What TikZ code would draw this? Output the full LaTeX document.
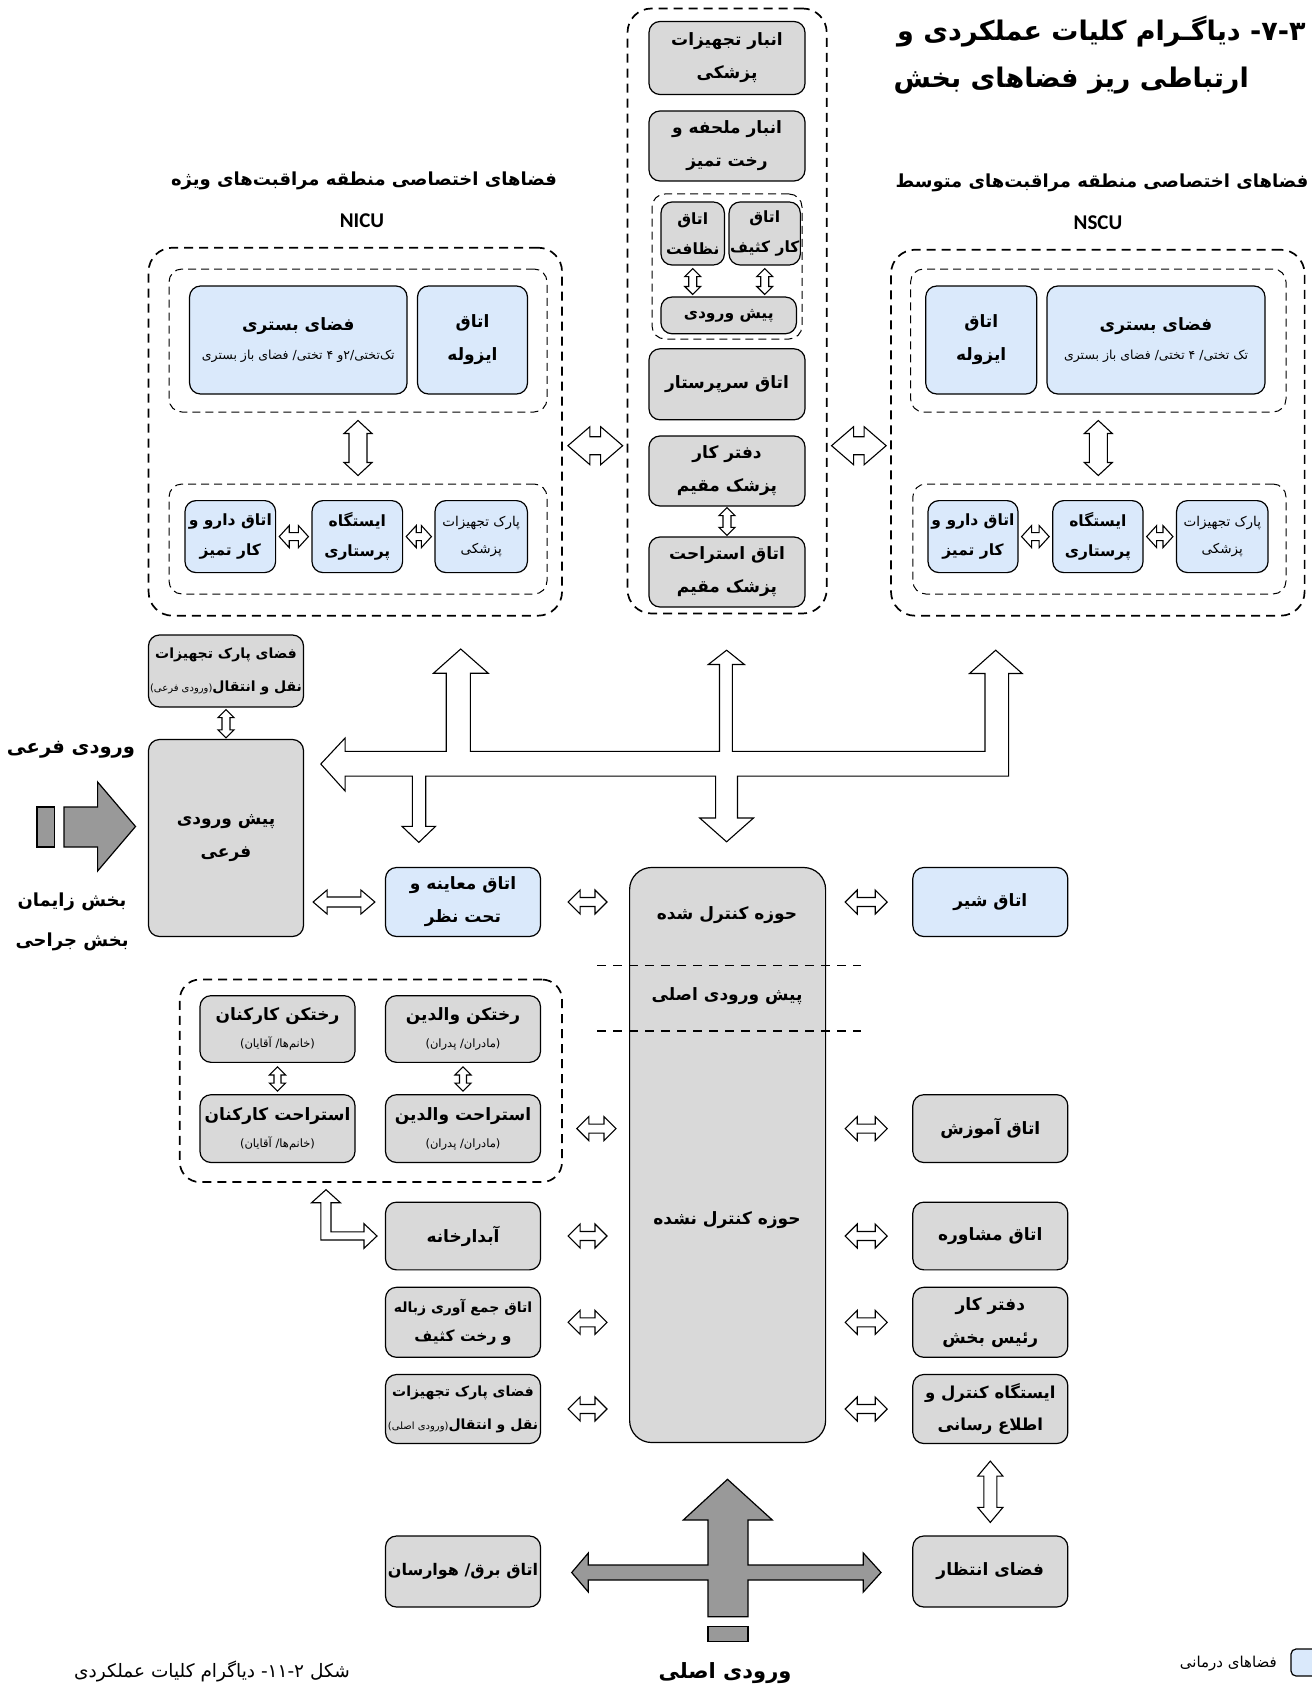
\documentclass[tikz,border=0pt]{standalone}
\usepackage{fontspec}
\usetikzlibrary{calc}
\TeXXeTstate=1
\newfontfamily\fa[Script=Arabic]{DejaVu Sans}
\newfontfamily\latf{Carlito}
\definecolor{bxblue}{RGB}{218,233,251}
\definecolor{bxgray}{RGB}{217,217,217}
\definecolor{argray}{RGB}{153,153,153}
\newcommand\rl[1]{\beginR#1\endR}
\newcommand\kz{\kern0pt\relax}
\newcommand\rsl{\kern0pt\relax/\kern0pt\relax}
\newcommand\rpo{(\kern0pt\relax}
\newcommand\rpc{\kern0pt\relax)}
\newcommand\mainf{\fa\bfseries\fontsize{17}{33}\selectfont}
\newcommand\medf{\fa\bfseries\fontsize{15.5}{30}\selectfont}
\newcommand\smf{\fa\bfseries\fontsize{14}{29}\selectfont}
\newcommand\pkf{\fa\mdseries\fontsize{13.5}{27}\selectfont}
\newcommand\subf{\fa\mdseries\fontsize{12.5}{15}\selectfont}
\newcommand\subg{\fa\mdseries\fontsize{11.5}{14}\selectfont}
\newcommand\tinyf{\fa\mdseries\fontsize{10}{12}\selectfont}
\newcommand\harr[6][barr]{\draw[#1] let \p1=#2, \p2=#3 in (\x1,\y1) -- (\x1+#6,\y1+#5) -- (\x1+#6,\y1+#4) -- (\x2-#6,\y1+#4) -- (\x2-#6,\y1+#5) -- (\x2,\y1) -- (\x2-#6,\y1-#5) -- (\x2-#6,\y1-#4) -- (\x1+#6,\y1-#4) -- (\x1+#6,\y1-#5) -- cycle;}
\newcommand\varr[6][barr]{\draw[#1] let \p1=#2, \p2=#3 in (\x1,\y1) -- (\x1+#5,\y1-#6) -- (\x1+#4,\y1-#6) -- (\x1+#4,\y2+#6) -- (\x1+#5,\y2+#6) -- (\x1,\y2) -- (\x1-#5,\y2+#6) -- (\x1-#4,\y2+#6) -- (\x1-#4,\y1-#6) -- (\x1-#5,\y1-#6) -- cycle;}
\begin{document}
\begin{tikzpicture}[x=1pt,y=-1pt,
 bx/.style={draw=black,line width=1.2pt,rounded corners=11pt,align=center,inner sep=1pt,font=\mainf},
 gb/.style={bx,fill=bxgray},
 bb/.style={bx,fill=bxblue},
 odash/.style={draw=black,line width=1.7pt,dash pattern=on 9pt off 6pt,rounded corners=24pt,inner sep=0pt},
 idash/.style={draw=black,line width=1pt,dash pattern=on 8pt off 5pt,rounded corners=13pt,inner sep=0pt},
 barr/.style={draw=black,line width=1.1pt,fill=white,line join=miter},
 garr/.style={draw=black,line width=1.2pt,fill=argray,line join=miter},
 hd/.style={font=\fa\bfseries\fontsize{18}{22}\selectfont,inner sep=0pt},
 hdl/.style={font=\latf\bfseries\fontsize{21}{24}\selectfont,inner sep=0pt},
 ttl/.style={font=\fa\bfseries\fontsize{27}{30}\selectfont,inner sep=0pt},
 lbl/.style={font=\fa\bfseries\fontsize{18}{22}\selectfont,inner sep=0pt},
 cdash/.style={line width=1.5pt,dash pattern=on 9pt off 7pt}
]
\useasboundingbox (0,0) rectangle (1311,1688);

% ---- title
\node[ttl,anchor=west] (t1) at (897,32) {\rl{۳\kz-\kz۷\kz- دیاگـرام کلیات عملکردی و}};
\node[ttl,anchor=east] (t2) at (1249,81) {\rl{ارتباطی ریز فضاهای بخش}};

% ---- NICU
\node[hd] (nicuh) at (364,181) {\rl{فضاهای اختصاصی منطقه مراقبت‌های ویژه}};
\node[hdl] (nicul) at (362,221) {NICU};
\node[odash,minimum width=413.5,minimum height=368] (nicuo) at (355.3,431.7) {};
\node[idash,minimum width=378,minimum height=143] (nicut) at (358,340.5) {};
\node[idash,minimum width=378,minimum height=110] (nicub) at (358,539) {};
\node[bb,minimum width=217.5,minimum height=108] (nicubed) at (298.3,340) {\rl{فضای بستری}\\[-4pt]{\subf\rl{تک‌تختی\rsl۲\kz و ۴ تختی\rsl{} فضای باز بستری}}};
\node[bb,minimum width=110,minimum height=108] (nicuiso) at (472.5,340) {\rl{اتاق}\\\rl{ایزوله}};
\node[bb,font=\medf,minimum width=90.6,minimum height=72] (nicudaru) at (230.3,536.6) {\rl{اتاق دارو و}\\\rl{کار تمیز}};
\node[bb,font=\medf,minimum width=90.6,minimum height=72] (nicust) at (357.3,536.6) {\rl{ایستگاه}\\\rl{پرستاری}};
\node[bb,font=\pkf,minimum width=92.4,minimum height=72] (nicupark) at (481.2,536.6) {\rl{پارک تجهیزات}\\\rl{پزشکی}};
\varr{($(nicut.south)+(0,8)$)}{($(nicub.north)+(0,-8)$)}{9pt}{14pt}{13pt}
\harr{($(nicudaru.east)+(3,0)$)}{($(nicust.west)+(-3,0)$)}{4pt}{11pt}{10pt}
\harr{($(nicust.east)+(3,0)$)}{($(nicupark.west)+(-3,0)$)}{4pt}{11pt}{10pt}

% ---- central column
\node[odash,minimum width=199.2,minimum height=605] (co) at (727.1,311) {};
\node[gb,minimum width=156,minimum height=73] (ca) at (727,58) {\rl{انبار تجهیزات}\\\rl{پزشکی}};
\node[gb,minimum width=156,minimum height=70] (cm) at (727,146) {\rl{انبار ملحفه و}\\\rl{رخت تمیز}};
\node[idash,minimum width=150,minimum height=145] (ci) at (727,266.5) {};
\node[gb,font=\medf,minimum width=63.4,minimum height=63] (cn) at (692.7,233.5) {\rl{اتاق}\\\rl{نظافت}};
\node[gb,font=\medf,minimum width=63.4,minimum height=63] (ck) at (764.7,233.5) {\rl{اتاق}\\\rl{کار کثیف}};
\node[gb,font=\medf,minimum width=135.5,minimum height=36.7] (cp) at (728.7,315.4) {\rl{پیش ورودی}};
\varr{($(cn.south)+(0,3)$)}{($(cn.south |- cp.north)+(0,-2)$)}{4pt}{8pt}{8pt}
\varr{($(ck.south)+(0,3)$)}{($(ck.south |- cp.north)+(0,-2)$)}{4pt}{8pt}{8pt}
\node[gb,minimum width=156,minimum height=71] (cs) at (727,384.3) {\rl{اتاق سرپرستار}};
\node[gb,minimum width=156,minimum height=70] (cd) at (727,471) {\rl{دفتر کار}\\\rl{پزشک مقیم}};
\node[gb,minimum width=156,minimum height=70] (ce) at (727,572) {\rl{اتاق استراحت}\\\rl{پزشک مقیم}};
\varr{($(cd.south)+(0,1)$)}{($(ce.north)+(0,-1)$)}{4pt}{8pt}{8pt}

% ---- NSCU
\node[hd] (nscuh) at (1102,183) {\rl{فضاهای اختصاصی منطقه مراقبت‌های متوسط}};
\node[hdl] (nscul) at (1098,223) {NSCU};
\node[odash,minimum width=413.6,minimum height=366] (nscuo) at (1097.8,432.7) {};
\node[idash,minimum width=375.4,minimum height=143] (nscut) at (1098.3,340.5) {};
\node[idash,minimum width=373.2,minimum height=110] (nscub) at (1099.4,539) {};
\node[bb,minimum width=111,minimum height=108] (nscuiso) at (981.2,340) {\rl{اتاق}\\\rl{ایزوله}};
\node[bb,minimum width=218,minimum height=108] (nscubed) at (1156,340) {\rl{فضای بستری}\\[-4pt]{\subf\rl{تک تختی\rsl{} ۴ تختی\rsl{} فضای باز بستری}}};
\node[bb,font=\medf,minimum width=90,minimum height=72] (nscudaru) at (973,536.6) {\rl{اتاق دارو و}\\\rl{کار تمیز}};
\node[bb,font=\medf,minimum width=90.3,minimum height=72] (nscust) at (1097.9,536.6) {\rl{ایستگاه}\\\rl{پرستاری}};
\node[bb,font=\pkf,minimum width=91.5,minimum height=72] (nscupark) at (1222.3,536.6) {\rl{پارک تجهیزات}\\\rl{پزشکی}};
\varr{($(nscut.south)+(0,8)$)}{($(nscub.north)+(0,-8)$)}{9pt}{14pt}{13pt}
\harr{($(nscudaru.east)+(3,0)$)}{($(nscust.west)+(-3,0)$)}{4pt}{11pt}{10pt}
\harr{($(nscust.east)+(3,0)$)}{($(nscupark.west)+(-3,0)$)}{4pt}{11pt}{10pt}

% ---- links of the upper zones
\harr{($(nicuo.east)+(5,14)$)}{($(co.west |- nicuo.east)+(-4,14)$)}{9pt}{19pt}{22pt}
\harr{($(co.east |- nscuo.west)+(4,13)$)}{($(nscuo.west)+(-4,13)$)}{9pt}{19pt}{22pt}

% ---- left middle
\node[gb,minimum width=155,minimum height=72] (lpk) at (226,671) {{\smf\rl{فضای پارک تجهیزات}}\\{\smf\rl{نقل و انتقال{\tinyf\rpo ورودی فرعی\rpc}}}};
\node[gb,minimum width=155,minimum height=197] (lpf) at (226,838) {\rl{پیش ورودی}\\\rl{فرعی}};
\varr{($(lpk.south)+(0,2)$)}{($(lpf.north)+(0,-1)$)}{4pt}{8pt}{8pt}
\node[lbl,font=\fa\bfseries\fontsize{19.5}{23}\selectfont] (vf) at (71,750) {\rl{ورودی فرعی}};
\node[lbl] (bz) at (72,902) {\rl{بخش زایمان}};
\node[lbl] (bj) at (72,942) {\rl{بخش جراحی}};
\draw[garr] (37,807) rectangle (54.7,847);
\draw[garr] (64,807) -- (97.6,807) -- (97.6,782) -- (135.5,826.5) -- (97.6,871) -- (97.6,847) -- (64,847) -- cycle;
\node[bb,minimum width=155,minimum height=69] (maay) at (463,902) {\rl{اتاق معاینه و}\\\rl{تحت نظر}};
\harr{($(lpf.east |- maay.west)+(9,0)$)}{($(maay.west)+(-10,0)$)}{5pt}{12pt}{14pt}

% ---- big white distribution arrow
\draw[barr] (320.8,764) -- (345.1,738) -- (345.1,751.3) -- (446.2,751.3) -- (446.2,673.2) -- (433.5,673.2) -- (460.7,649) -- (488.2,673.2) -- (470.4,673.2) -- (470.4,751.3) -- (719.5,751.3) -- (719.5,664.5) -- (708.3,664.5) -- (726.6,650.2) -- (744.4,664.5) -- (732.4,664.5) -- (732.4,751.3) -- (985,751.3) -- (985,673.5) -- (969.5,673.5) -- (995.7,650.2) -- (1022.2,673.5) -- (1008.6,673.5) -- (1008.6,776.1) -- (737.5,776.1) -- (737.5,818) -- (753.5,818) -- (726.6,841.8) -- (699.7,818) -- (715.6,818) -- (715.6,776.1) -- (425.7,776.1) -- (425.7,826.3) -- (435.6,826.3) -- (418.8,842.4) -- (402,826.3) -- (412.3,826.3) -- (412.3,776.1) -- (345.1,776.1) -- (345.1,791) -- cycle;

% ---- central controlled / uncontrolled zone
\node[gb,rounded corners=22pt,minimum width=196,minimum height=575] (cb) at (727.6,1155) {};
\node[font=\mainf,inner sep=0pt] (cbt1) at (727,915) {\rl{حوزه کنترل شده}};
\node[font=\mainf,inner sep=0pt] (cbt2) at (727,996) {\rl{پیش ورودی اصلی}};
\node[font=\mainf,inner sep=0pt] (cbt3) at (727,1220) {\rl{حوزه کنترل نشده}};
\draw[cdash] (597,965.5) -- (861,965.5);
\draw[cdash] (597,1031) -- (861,1031);
\harr{($(maay.east)+(27,0)$)}{($(cb.west |- maay.east)+(-22,0)$)}{4.5pt}{12pt}{12pt}

% ---- staff / parents group
\node[odash,rounded corners=20pt,minimum width=382.2,minimum height=202.5] (lld) at (370.9,1080.8) {};
\node[gb,minimum width=155,minimum height=66.7] (rk) at (277.5,1029) {\rl{رختکن کارکنان}\\[-6pt]{\subg\rl{\rpo خانم‌ها\rsl{} آقایان\rpc}}};
\node[gb,minimum width=155,minimum height=66.7] (rv) at (463,1029) {\rl{رختکن والدین}\\[-6pt]{\subg\rl{\rpo مادران\rsl{} پدران\rpc}}};
\node[gb,minimum width=155,minimum height=67.8] (ek) at (277.5,1128.6) {\rl{استراحت کارکنان}\\[-6pt]{\subg\rl{\rpo خانم‌ها\rsl{} آقایان\rpc}}};
\node[gb,minimum width=155,minimum height=67.8] (ev) at (463,1128.6) {\rl{استراحت والدین}\\[-6pt]{\subg\rl{\rpo مادران\rsl{} پدران\rpc}}};
\varr{($(rk.south)+(0,4)$)}{($(ek.north)+(0,-3)$)}{3.5pt}{8pt}{8pt}
\varr{($(rv.south)+(0,4)$)}{($(ev.north)+(0,-3)$)}{3.5pt}{8pt}{8pt}
\harr{($(lld.east |- ev.east)+(14,0)$)}{($(cb.west |- ev.east)+(-13,0)$)}{4.5pt}{12pt}{12pt}

% ---- left service rooms
\node[gb,minimum width=155,minimum height=67.7] (ab) at (463,1236) {\rl{آبدارخانه}};
\draw[barr] (326,1189.7) -- (340.4,1202.7) -- (331,1202.7) -- (331,1231.8) -- (364,1231.8) -- (364,1223.7) -- (377,1236) -- (364,1248.3) -- (364,1240) -- (320.8,1240) -- (320.8,1202.7) -- (311.6,1202.7) -- cycle;
\node[gb,font=\smf,minimum width=155,minimum height=70] (zb) at (463,1322.3) {\rl{اتاق جمع آوری زباله}\\{\medf\rl{و رخت کثیف}}};
\node[gb,minimum width=155,minimum height=69] (pm) at (463,1409) {{\smf\rl{فضای پارک تجهیزات}}\\{\smf\rl{نقل و انتقال{\tinyf\rpo ورودی اصلی\rpc}}}};
\harr{($(ab.east)+(27,0)$)}{($(cb.west |- ab.east)+(-22,0)$)}{4.5pt}{12pt}{12pt}
\harr{($(zb.east)+(27,0)$)}{($(cb.west |- zb.east)+(-22,0)$)}{4.5pt}{12pt}{12pt}
\harr{($(pm.east)+(27,0)$)}{($(cb.west |- pm.east)+(-22,0)$)}{4.5pt}{12pt}{12pt}

% ---- right rooms
\node[bb,minimum width=155,minimum height=69] (sh) at (990.3,902) {\rl{اتاق شیر}};
\node[gb,minimum width=155,minimum height=67.8] (am) at (990.3,1128.6) {\rl{اتاق آموزش}};
\node[gb,minimum width=155,minimum height=67.7] (ms) at (990.3,1236) {\rl{اتاق مشاوره}};
\node[gb,minimum width=155,minimum height=70] (rs) at (990.3,1322.3) {\rl{دفتر کار}\\\rl{رئیس بخش}};
\node[gb,font=\fa\bfseries\fontsize{16.5}{32}\selectfont,minimum width=155,minimum height=69] (ks) at (990.3,1409) {\rl{ایستگاه کنترل و}\\\rl{اطلاع رسانی}};
\harr{($(cb.east |- sh.west)+(19,0)$)}{($(sh.west)+(-25,0)$)}{4.5pt}{12pt}{12pt}
\harr{($(cb.east |- am.west)+(19,0)$)}{($(am.west)+(-25,0)$)}{4.5pt}{12pt}{12pt}
\harr{($(cb.east |- ms.west)+(19,0)$)}{($(ms.west)+(-25,0)$)}{4.5pt}{12pt}{12pt}
\harr{($(cb.east |- rs.west)+(19,0)$)}{($(rs.west)+(-25,0)$)}{4.5pt}{12pt}{12pt}
\harr{($(cb.east |- ks.west)+(19,0)$)}{($(ks.west)+(-25,0)$)}{4.5pt}{12pt}{12pt}
\node[gb,minimum width=155,minimum height=71] (en) at (990.3,1571.5) {\rl{فضای انتظار}};
\varr{($(ks.south)+(0,17)$)}{($(en.north)+(0,-13)$)}{6.5pt}{12.6pt}{15pt}
\node[gb,font=\fa\bfseries\fontsize{16}{32}\selectfont,minimum width=155,minimum height=71] (br) at (463,1571.5) {\rl{اتاق برق\rsl{} هوارسان}};

% ---- main entrance arrows (one outline)
\draw[garr] (727.5,1479.3) -- (772.3,1520) -- (748,1520) -- (748,1565) -- (863.3,1565) -- (863.3,1553) -- (881,1572.5) -- (863.3,1592) -- (863.3,1580) -- (748,1580) -- (748,1616.7) -- (708,1616.7) -- (708,1580) -- (588.3,1580) -- (588.3,1592) -- (571.7,1572.5) -- (588.3,1553) -- (588.3,1565) -- (708,1565) -- (708,1520) -- (683.3,1520) -- cycle;
\draw[garr] (708,1626.5) rectangle (748,1641.7);
\node[lbl,font=\fa\bfseries\fontsize{21}{25}\selectfont] (vo) at (725,1673) {\rl{ورودی اصلی}};

% ---- caption and legend
\node[inner sep=0pt,anchor=east,font=\fa\mdseries\fontsize{18.5}{22}\selectfont] (cap) at (350,1671) {\rl{شکل ۲\kz-\kz۱۱\kz- دیاگرام کلیات عملکردی}};
\draw[line width=1.2pt,fill=bxblue,rounded corners=5pt] (1291,1649) rectangle (1324,1676);
\node[inner sep=0pt,anchor=east,font=\fa\mdseries\fontsize{15}{18}\selectfont] (leg) at (1277,1664) {\rl{فضاهای درمانی}};
\end{tikzpicture}
\end{document}
